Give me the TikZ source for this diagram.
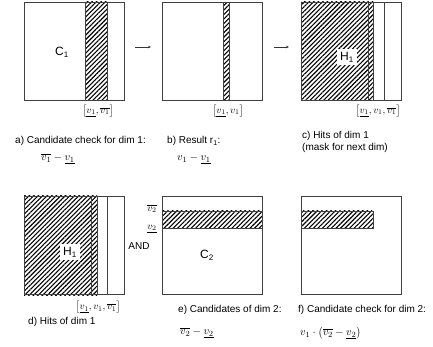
\documentclass[tikz,border=0pt]{standalone}
\usepackage{fontspec}
\setmainfont{Liberation Sans}
\usetikzlibrary{patterns.meta,arrows.meta}
\begin{document}
\begin{tikzpicture}[x=1pt,y=-1pt,
  box/.style={draw=black!75,line width=0.6pt,minimum width=100pt,minimum height=98pt,inner sep=0pt},
  hatch/.style={pattern={Lines[angle=45,distance=3.2pt,line width=1.1pt]},pattern color=black},
  boxline/.style={draw=black!75,line width=0.6pt},
  captxt/.style={font=\fontsize{10}{12}\selectfont,anchor=west,inner sep=0pt,align=left},
  formula/.style={font=\fontsize{11}{13}\selectfont,anchor=west,inner sep=0pt},
  rng/.style={font=\fontsize{10}{12}\selectfont,inner sep=0pt},
  big/.style={font=\fontsize{12}{14}\selectfont,inner sep=1.5pt},
  hlabel/.style={big,fill=white,inner xsep=3.5pt,inner ysep=3pt},
  arr/.style={-{Stealth[length=3pt,width=2.5pt]},line width=0.5pt,black!80}]
\useasboundingbox (0,0) rectangle (433,347);
% ---- a
\fill[hatch] (85,2) rectangle (107,100);
\node[box] (A) at (74,51) {};
\draw[boxline] (85,2) -- (85,100) (107,2) -- (107,100);
\node[big] (C1) at (62,52) {C\textsubscript{1}};
\node[rng] (la) at (98,111) {$\left[\underline{v_1},\overline{v_1}\right]$};
\node[captxt] (ca) at (15,141) {a) Candidate check for dim 1:};
\node[formula] (fa) at (41,159) {$\overline{v_1}-\underline{v_1}$};
% ---- b
\fill[hatch] (223,3) rectangle (229,100);
\node[box] (B) at (212,51.5) {};
\draw[boxline] (223,3) -- (223,100) (229,3) -- (229,100);
\node[rng] (lb) at (228,111) {$\left[\underline{v_1},v_1\right]$};
\node[captxt] (cb) at (167,141) {b) Result r\textsubscript{1}:};
\node[formula] (fb) at (177,159) {$v_1-\underline{v_1}$};
% ---- c
\fill[hatch] (301,2) rectangle (373,101);
\node[box] (Cc) at (351.5,51.5) {};
\draw[boxline] (368,2) -- (368,101) (373,2) -- (373,101) (384,2) -- (384,101);
\node[hlabel] (H1a) at (347,57) {H\textsubscript{1}};
\node[rng] (lc) at (378,111) {$\left[\underline{v_1},v_1,\overline{v_1}\right]$};
\node[captxt] (cc) at (302,142) {c) Hits of dim 1\\(mask for next dim)};
% ---- arrows
\coordinate (a1) at (135,47);
\coordinate (b1) at (151,47);
\coordinate (b2) at (274,47);
\coordinate (c1) at (289,47);
\draw[arr] (a1) -- (b1);
\draw[arr] (b2) -- (c1);
% ---- d
\fill[hatch] (24,196) rectangle (97,295);
\node[box] (D) at (74,245.5) {};
\draw[boxline] (91,196) -- (91,295) (97,196) -- (97,295) (107,196) -- (107,295);
\node[hlabel] (H1b) at (70,252) {H\textsubscript{1}};
\node[rng] (ld) at (98,307) {$\left[\underline{v_1},v_1,\overline{v_1}\right]$};
\node[captxt] (cd) at (28,322) {d) Hits of dim 1};
% ---- AND
\node[font=\fontsize{10}{12}\selectfont,inner sep=0pt] (and) at (139,246) {AND};
% ---- e
\fill[hatch] (163,211) rectangle (262,228);
\node[box] (E) at (212.5,245.5) {};
\draw[boxline] (163,211) -- (262,211) (163,228) -- (262,228);
\node[rng] (v2o) at (152,209) {$\overline{v_2}$};
\node[rng] (v2u) at (152,229) {$\underline{v_2}$};
\node[big] (C2) at (207,255) {C\textsubscript{2}};
\node[captxt] (ce) at (178,310) {e) Candidates of dim 2:};
\node[formula] (fe) at (180,333) {$\overline{v_2}-\underline{v_2}$};
% ---- f
\fill[hatch] (301,211) rectangle (373,228);
\node[box] (F) at (351,245.5) {};
\draw[boxline] (301,211) rectangle (373,228);
\node[captxt] (cf) at (298,310) {f) Candidate check for dim 2:};
\node[formula] (ff) at (300,333) {$v_1\cdot\left(\overline{v_2}-\underline{v_2}\right)$};
\end{tikzpicture}
\end{document}
